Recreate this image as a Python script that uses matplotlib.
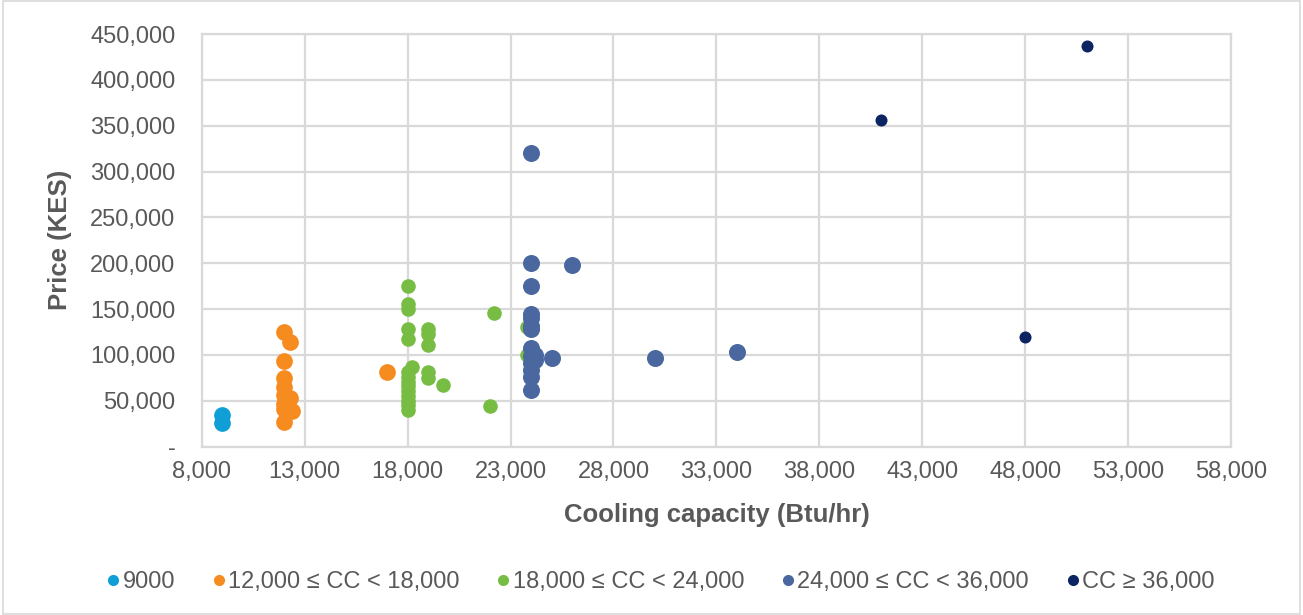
import matplotlib
matplotlib.use("Agg")
import numpy as np
import matplotlib.pyplot as plt
from matplotlib.ticker import FuncFormatter
from matplotlib.patches import Rectangle
from matplotlib.lines import Line2D

plt.rcParams['font.family'] = ['Liberation Sans', 'DejaVu Sans']

# Cooling capacity (Btu/hr) and price (KES) per product group
cc_9000_x = [9000, 9000]
cc_9000_y = [35000, 26000]

cc_12k_x = [12000, 12300, 12000, 12000, 12000, 12000, 12300, 12000, 12000, 12400, 12000, 17000]
cc_12k_y = [125000, 114000, 93000, 75000, 65000, 56000, 53000, 46000, 41000, 39000, 27000, 81000]

cc_18k_x = [18000, 18000, 18000, 18000, 18000, 18200, 18000, 18000, 18000, 18000, 18000,
            18000, 18000, 18000, 18000, 19000, 19000, 19000, 19000, 19000, 19700,
            22200, 22000, 23800, 23800]
cc_18k_y = [175000, 156000, 150000, 128000, 117000, 87000, 81000, 76000, 71000, 66000, 61000,
            55000, 50000, 45000, 40000, 128000, 123000, 111000, 81000, 75000, 67000,
            146000, 44000, 130000, 100000]

cc_24k_x = [24000, 24000, 26000, 24000, 24000, 24000, 24000, 24000, 24000, 24000, 24000,
            24000, 24000, 24200, 24200, 24000, 25000, 30000, 34000]
cc_24k_y = [320000, 200000, 198000, 175000, 145000, 140000, 132000, 128000, 108000, 99000, 91000,
            84000, 76000, 95000, 100000, 62000, 97000, 97000, 103000]

cc_36k_x = [41000, 51000, 48000]
cc_36k_y = [356000, 437000, 120000]

labels = ["9000", "12,000 \u2264 CC < 18,000", "18,000 \u2264 CC < 24,000",
          "24,000 \u2264 CC < 36,000", "CC \u2265 36,000"]
colors = ["#0F9ED5", "#F68B1F", "#77BC43", "#4B67A0", "#0C2461"]

x_ticks = np.arange(8000, 58001, 5000)
y_ticks = np.arange(0, 450001, 50000)

fig = plt.figure(figsize=(13.03, 6.15), dpi=100)
ax = fig.add_axes([0.1548, 0.2737, 0.79, 0.671])

series = [
    (cc_9000_x, cc_9000_y, 145),
    (cc_12k_x, cc_12k_y, 145),
    (cc_18k_x, cc_18k_y, 110),
    (cc_24k_x, cc_24k_y, 150),
    (cc_36k_x, cc_36k_y, 75),
]
for (xs, ys, s), lab, col in zip(series, labels, colors):
    ax.scatter(xs, ys, s=s, color=col, label=lab, linewidths=0, zorder=3)

ax.set_xlim(8000, 58000)
ax.set_ylim(0, 450000)
ax.set_xticks(x_ticks)
ax.set_yticks(y_ticks)
ax.xaxis.set_major_formatter(FuncFormatter(lambda v, p: f"{int(v):,}"))
ax.yaxis.set_major_formatter(FuncFormatter(lambda v, p: "-" if v == 0 else f"{int(v):,}"))

grid_col = "#D9D9D9"
ax.grid(True, color=grid_col, linewidth=1.6, zorder=0)
ax.set_axisbelow(True)
for sp in ax.spines.values():
    sp.set_color(grid_col)
    sp.set_linewidth(1.6)
ax.tick_params(length=0, labelsize=17, labelcolor="#595959")
ax.tick_params(axis="y", pad=19)
ax.tick_params(axis="x", pad=10)

ax.set_xlabel("Cooling capacity (Btu/hr)", fontsize=18.5, fontweight="bold",
              color="#595959", labelpad=15)
ax.set_ylabel("Price (KES)", fontsize=18.5, fontweight="bold",
              color="#595959", labelpad=13)

handles = [Line2D([], [], linestyle="none", marker="o", markersize=8,
                  markerfacecolor=c, markeredgewidth=0) for c in colors]
fig.legend(handles, labels, loc="center", bbox_to_anchor=(0.505, 0.054), ncol=5,
           frameon=False, fontsize=17, handletextpad=-0.1, handlelength=1.0,
           columnspacing=1.35, labelcolor="#595959")

fig.patches.append(Rectangle((0.002, 0.002), 0.996, 0.996, transform=fig.transFigure,
                             fill=False, edgecolor="#D9D9D9", linewidth=1.2))

fig.savefig("out.png", dpi=100)
